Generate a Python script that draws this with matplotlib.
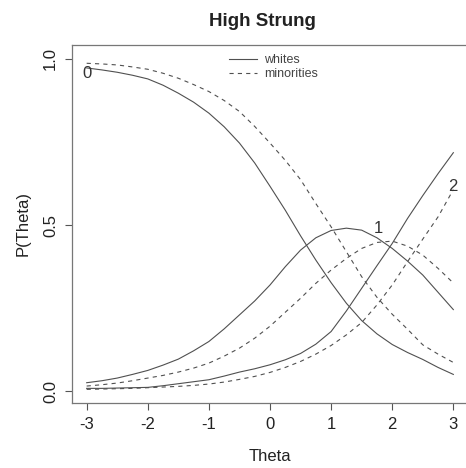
import matplotlib
matplotlib.use("Agg")
import matplotlib.pyplot as plt
from matplotlib.lines import Line2D

theta = [-3.0, -2.75, -2.5, -2.25, -2.0, -1.75, -1.5, -1.25, -1.0, -0.75, -0.5, -0.25,
         0.0, 0.25, 0.5, 0.75, 1.0, 1.25, 1.5, 1.75, 2.0, 2.25, 2.5, 2.75, 3.0]

whites_p0 = [0.973, 0.967, 0.960, 0.951, 0.940, 0.921, 0.897, 0.870, 0.837, 0.796, 0.747, 0.687,
             0.617, 0.545, 0.468, 0.395, 0.327, 0.265, 0.213, 0.173, 0.141, 0.117, 0.096, 0.072, 0.051]
whites_p1 = [0.026, 0.032, 0.040, 0.051, 0.063, 0.079, 0.097, 0.122, 0.150, 0.188, 0.230, 0.272,
             0.320, 0.375, 0.425, 0.462, 0.484, 0.491, 0.485, 0.462, 0.430, 0.392, 0.350, 0.298, 0.246]
whites_p2 = [0.009, 0.009, 0.010, 0.011, 0.012, 0.017, 0.023, 0.029, 0.035, 0.046, 0.058, 0.068,
             0.080, 0.095, 0.114, 0.142, 0.180, 0.242, 0.310, 0.378, 0.445, 0.520, 0.589, 0.655, 0.718]

minor_p0 = [0.987, 0.985, 0.982, 0.976, 0.969, 0.957, 0.942, 0.923, 0.902, 0.875, 0.842, 0.797,
            0.747, 0.695, 0.637, 0.565, 0.495, 0.420, 0.345, 0.283, 0.232, 0.187, 0.140, 0.112, 0.087]
minor_p1 = [0.016, 0.020, 0.025, 0.032, 0.040, 0.048, 0.058, 0.070, 0.085, 0.106, 0.130, 0.160,
            0.196, 0.238, 0.280, 0.325, 0.365, 0.400, 0.430, 0.448, 0.452, 0.437, 0.410, 0.370, 0.326]
minor_p2 = [0.006, 0.007, 0.008, 0.009, 0.011, 0.013, 0.015, 0.018, 0.022, 0.028, 0.036, 0.045,
            0.057, 0.072, 0.090, 0.112, 0.138, 0.170, 0.207, 0.260, 0.320, 0.390, 0.458, 0.525, 0.607]

cat_labels = ["0", "1", "2"]
label_pos = [(-3.0, 0.957), (1.78, 0.49), (2.99, 0.617)]

xticks = [-3, -2, -1, 0, 1, 2, 3]
yticks = [0.0, 0.5, 1.0]
ytick_labels = ["0.0", "0.5", "1.0"]

plt.rcParams['font.family'] = ['Liberation Sans', 'DejaVu Sans']
plt.rcParams['lines.scale_dashes'] = False

fig = plt.figure(figsize=(4.66, 4.68), dpi=100)
ax = fig.add_axes([72/466, 1 - 403/468, (468-72)/466, (403-45)/468])

lc = "#505050"
lw = 0.8
dash = (0, (3, 3))
for ys in (whites_p0, whites_p1, whites_p2):
    ax.plot(theta, ys, color=lc, lw=lw, ls="-")
for ys in (minor_p0, minor_p1, minor_p2):
    ax.plot(theta, ys, color=lc, lw=lw, ls=dash)

for lab, (x, y) in zip(cat_labels, label_pos):
    ax.text(x, y, lab, fontsize=12, color="#333333", ha="center", va="center")

ax.set_xlim(-3.24, 3.24)
ax.set_ylim(-0.035, 1.042)
ax.set_xticks(xticks)
ax.set_xticklabels([str(t) for t in xticks])
ax.set_yticks(yticks)
ax.set_yticklabels(ytick_labels, rotation=90, va="center")
ax.tick_params(axis="both", direction="out", length=5, width=0.8, color="#555555",
               labelsize=12, labelcolor="#222222", pad=5)
for s in ax.spines.values():
    s.set_color("#777777")
    s.set_linewidth(0.9)

ax.set_xlabel("Theta", fontsize=12, color="#222222", labelpad=12)
ax.set_ylabel("P(Theta)", fontsize=12, color="#222222", labelpad=9)
ax.set_title("High Strung", fontsize=13.5, fontweight="bold", color="#222222", pad=14,
             x=(262-72)/(468-72))

handles = [Line2D([0], [0], color=lc, lw=lw, ls="-"),
           Line2D([0], [0], color=lc, lw=lw, ls=dash)]
leg = ax.legend(handles, ["whites", "minorities"], loc="upper left",
                bbox_to_anchor=((229-72)/(468-72), 1 - (54-45)/(403-45)),
                frameon=False, fontsize=9, handlelength=2.2, handletextpad=0.6,
                labelspacing=0.15, borderaxespad=0, borderpad=0)
for t in leg.get_texts():
    t.set_color("#444444")

fig.savefig("out.png", dpi=100)
